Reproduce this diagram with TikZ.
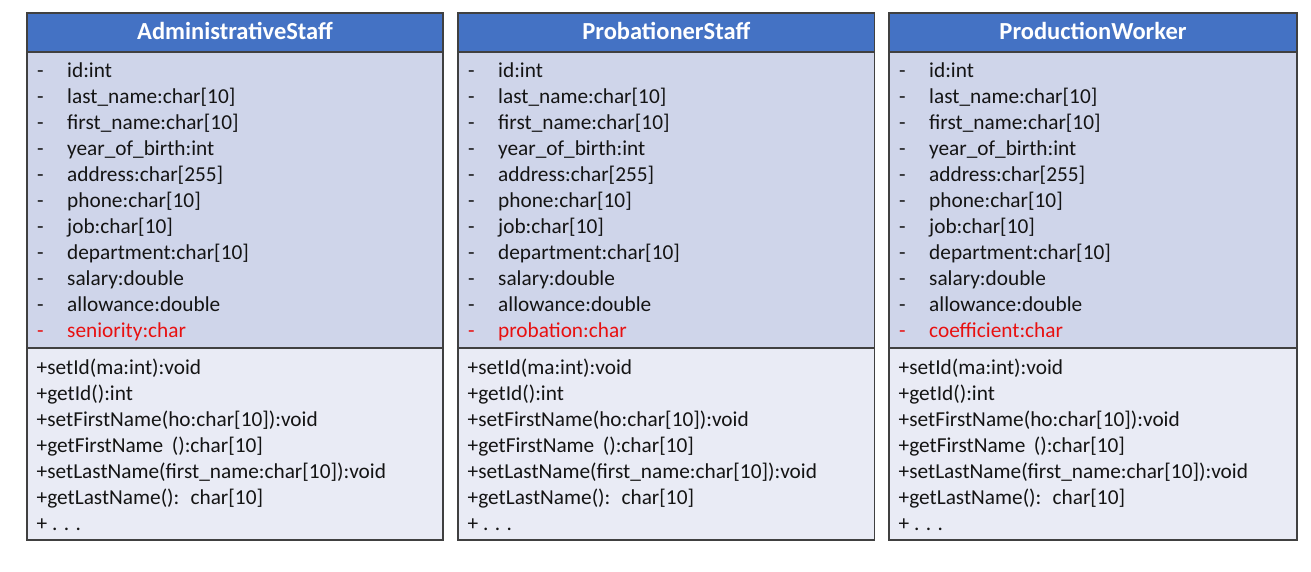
\documentclass[tikz,border=0pt]{standalone}
\usepackage{fontspec}
\setmainfont{Carlito}
\definecolor{hdr}{HTML}{4472C4}
\definecolor{attrbg}{HTML}{CFD5EA}
\definecolor{methbg}{HTML}{E9EBF5}
\definecolor{edgecol}{HTML}{404040}
\definecolor{txt}{HTML}{141414}
\definecolor{redtxt}{HTML}{E81010}
\tikzset{
  classtitle/.style={font=\fontsize{24.5}{28}\selectfont\bfseries, text=white, inner sep=0pt, anchor=base},
  attrtext/.style={font=\fontsize{21.3}{24}\selectfont, text=txt, inner sep=0pt, anchor=base west},
  redattr/.style={attrtext, text=redtxt},
  secbox/.style={draw=edgecol, line width=1.2pt},
}
\newcommand\umlclass[5]{%
  \filldraw[secbox, fill=attrbg] (#2,52) rectangle (#3,348);
  \filldraw[secbox, fill=methbg] (#2,348) rectangle (#3,540);
  \filldraw[secbox, fill=hdr] (#2,13) rectangle (#3,52);
  \node[classtitle] (#1-title) at ({(#2+#3)/2},40) {#4};
  \foreach \t [count=\i from 0] in {id:int, last\_name:char[10], first\_name:char[10], year\_of\_birth:int, address:char[255], phone:char[10], job:char[10], department:char[10], salary:double, allowance:double} {
    \node[attrtext] (#1-dash\i) at (#2+10,77.5+26*\i) {-};
    \node[attrtext] (#1-attr\i) at (#2+40,77.5+26*\i) {\t};
  }
  \node[redattr] (#1-dash10) at (#2+10,337.5) {-};
  \node[redattr] (#1-attr10) at (#2+40,337.5) {#5};
  \foreach \t [count=\i from 0] in {+setId(ma:int):void, +getId():int, +setFirstName(ho:char[10]):void, +getFirstName\hspace{0.4em}():char[10], +setLastName(first\_name:char[10]):void, +getLastName():~ char[10], + . . .} {
    \node[attrtext] (#1-meth\i) at (#2+9.5,374.5+26*\i) {\t};
  }
}
\begin{document}
\begin{tikzpicture}[x=1pt,y=-1pt]
\useasboundingbox[fill=white] (0,0) rectangle (1311,572);
\umlclass{admin}{27}{443}{AdministrativeStaff}{seniority:char}
\umlclass{prob}{458}{874.5}{ProbationerStaff}{probation:char}
\umlclass{prod}{889}{1297}{ProductionWorker}{coefficient:char}
\end{tikzpicture}
\end{document}
